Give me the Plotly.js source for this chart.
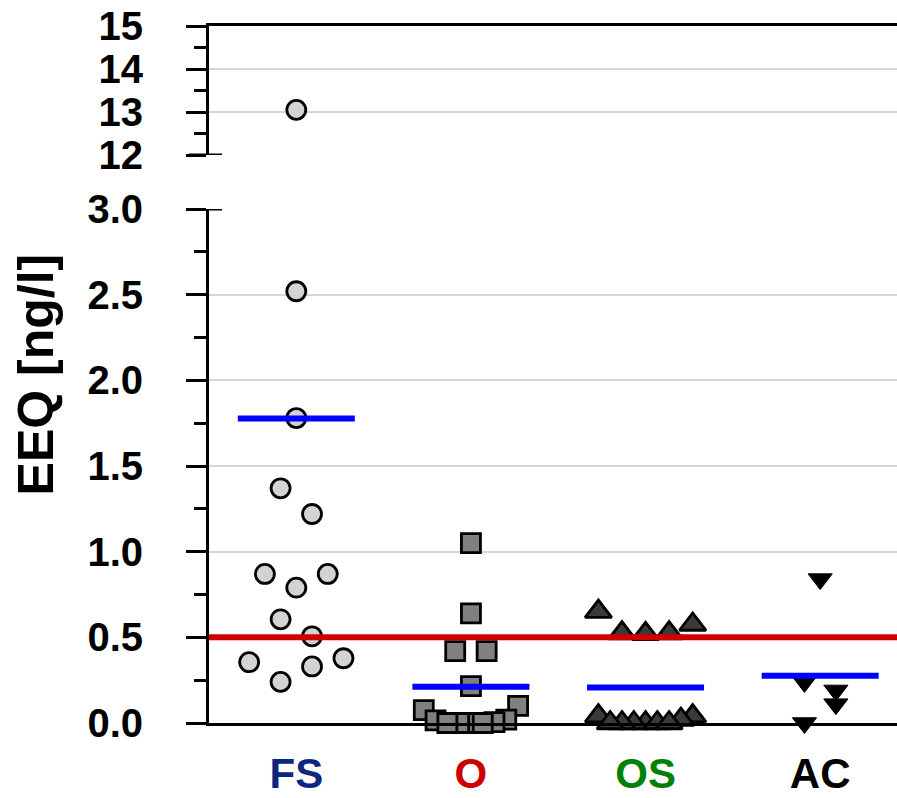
<!DOCTYPE html>
<html><head><meta charset="utf-8">
<script src="https://cdn.plot.ly/plotly-3.0.1.min.js"></script>
<style>html,body{margin:0;padding:0;background:#fff;}#chart{width:897px;height:798px;}</style>
</head><body><div id="chart"></div>
<script>
// ---- data ----
const categories = ['FS', 'O', 'OS', 'AC'];
const categoryColors = ['#0d2680', '#cc0000', '#008000', '#000000'];
const fsValues = [13.05, 2.52, 1.78, 1.37, 1.22, 0.87, 0.87, 0.79, 0.605, 0.506, 0.378, 0.355, 0.33, 0.24];
const oValues = [1.05, 0.64, 0.42, 0.42, 0.215, 0.1, 0.075, 0.02, 0.015, 0.005, 0, 0, 0, 0];
const osValues = [0.65, 0.575, 0.525, 0.525, 0.52, 0.04, 0.04, 0.02, 0, 0, 0, 0, 0, 0];
const acValues = [0.84, 0.24, 0.19, 0.11, 0];
const referenceLevel = 0.5;
const lowerTicks = [0, 0.5, 1, 1.5, 2, 2.5, 3];
const upperTicks = [12, 13, 14, 15];
const breakLow = 3;
const breakHigh = 12;

// ---- styling ----
const FONT = '"Liberation Sans", Arial, Helvetica, sans-serif';
const markerStyles = [
  {symbol: 'circle', size: 19, color: '#d3d3d3', line: {color: '#000', width: 2.8}},
  {symbol: 'square', size: 19, color: '#808080', line: {color: '#000', width: 2.8}},
  {symbol: 'triangle-up', size: 23, color: '#3a3a3a', line: {color: '#000', width: 2.8}},
  {symbol: 'triangle-down', size: 21, color: '#000', line: {color: '#000', width: 1}}
];

// deterministic column-scatter layout (rows of nearby values spread side by side)
function swarmOffsets(values, rowSpan, step, maxSteps) {
  const idx = values.map((v, i) => i).sort((a, b) => values[a] - values[b]);
  const off = new Array(values.length).fill(0);
  let r = 0, k = 0;
  while (k < idx.length) {
    const start = values[idx[k]];
    const row = [];
    while (k < idx.length && values[idx[k]] - start <= rowSpan) row.push(idx[k++]);
    const n = row.length;
    const sp = n > 1 ? Math.min(2, 2 * maxSteps / (n - 1)) : 0;
    const slots = [];
    for (let i = 0; i < n; i++) slots.push((i - (n - 1) / 2) * sp);
    const sign = r % 2 === 0 ? -1 : 1;
    slots.sort((a, b) => (Math.abs(a) - Math.abs(b)) || (a - b) * (-sign));
    row.forEach((id, j) => { off[id] = slots[j] * step; });
    r++;
  }
  return off;
}

const groups = [fsValues, oValues, osValues, acValues];
const traces = [];
groups.forEach((vals, ci) => {
  const off = swarmOffsets(vals, 0.16, 0.09, 3);
  const lowX = [], lowY = [], hiX = [], hiY = [];
  vals.forEach((v, i) => {
    if (v > breakLow) { hiX.push(ci + off[i]); hiY.push(v); }
    else { lowX.push(ci + off[i]); lowY.push(v); }
  });
  const ms = markerStyles[ci];
  traces.push({type: 'scatter', mode: 'markers', x: lowX, y: lowY, xaxis: 'x', yaxis: 'y',
    marker: ms, cliponaxis: false, hoverinfo: 'skip'});
  if (hiY.length) traces.push({type: 'scatter', mode: 'markers', x: hiX, y: hiY, xaxis: 'x2', yaxis: 'y2',
    marker: ms, cliponaxis: false, hoverinfo: 'skip'});
});
// mean lines
groups.forEach((vals, ci) => {
  const mean = vals.reduce((a, b) => a + b, 0) / vals.length;
  traces.push({type: 'scatter', mode: 'lines', x: [ci - 0.335, ci + 0.335], y: [mean, mean],
    xaxis: 'x', yaxis: 'y', line: {color: '#0000ff', width: 6}, cliponaxis: false, hoverinfo: 'skip'});
});

const xRange = [-0.5, 3.44];
const tickFont = {family: FONT, size: 40, color: '#000', weight: 700};
const layout = {
  width: 897, height: 798,
  margin: {l: 209, r: 0, t: 26, b: 75, pad: 0},
  paper_bgcolor: '#fff', plot_bgcolor: '#fff',
  showlegend: false,
  font: {family: FONT, color: '#000', weight: 700},
  xaxis: {
    domain: [0, 1], range: xRange, anchor: 'y',
    tickvals: categories.map((c, i) => i),
    ticktext: categories.map((c, i) => '<span style="color:' + categoryColors[i] + '">' + c + '</span>'),
    ticks: '', showline: true, linecolor: '#000', linewidth: 3,
    showgrid: false, zeroline: false,
    tickfont: {family: FONT, size: 42, weight: 700}, ticklabelstandoff: 12
  },
  xaxis2: {
    domain: [0, 1], range: xRange, anchor: 'y2', side: 'top',
    showline: true, linecolor: '#000', linewidth: 3,
    showticklabels: false, ticks: '', showgrid: false, zeroline: false
  },
  yaxis: {
    domain: [0, 0.7374], range: [0, breakLow], anchor: 'x',
    tickvals: lowerTicks, ticktext: lowerTicks.map(v => v.toFixed(1)),
    ticks: 'outside', ticklen: 20, tickwidth: 3, tickcolor: '#000',
    showline: true, linecolor: '#000', linewidth: 3,
    showgrid: true, gridcolor: '#d6d6d6', gridwidth: 2, zeroline: false,
    minor: {dtick: 0.25, tick0: 0, ticks: 'outside', ticklen: 12, tickwidth: 3, tickcolor: '#000', showgrid: false},
    tickfont: tickFont, ticklabelstandoff: 35
  },
  yaxis2: {
    domain: [0.8149, 1], range: [breakHigh, 15], anchor: 'x2',
    tickvals: upperTicks, ticktext: upperTicks.map(String),
    ticks: 'outside', ticklen: 20, tickwidth: 3, tickcolor: '#000',
    showline: true, linecolor: '#000', linewidth: 3,
    showgrid: true, gridcolor: '#d6d6d6', gridwidth: 2, zeroline: false,
    minor: {dtick: 0.5, tick0: 12, ticks: 'outside', ticklen: 12, tickwidth: 3, tickcolor: '#000', showgrid: false},
    tickfont: tickFont, ticklabelstandoff: 35
  },
  shapes: [
    {type: 'line', xref: 'paper', x0: 0, x1: 1, yref: 'y', y0: referenceLevel, y1: referenceLevel,
      line: {color: '#cc0000', width: 6}, layer: 'above'},
    {type: 'line', xref: 'paper', xsizemode: 'pixel', xanchor: 0, x0: -20, x1: 13,
      yref: 'y', y0: breakLow, y1: breakLow, line: {color: '#000', width: 3}},
    {type: 'line', xref: 'paper', xsizemode: 'pixel', xanchor: 0, x0: -20, x1: 13,
      yref: 'y2', y0: breakHigh, y1: breakHigh, line: {color: '#000', width: 3}}
  ],
  annotations: [
    {xref: 'paper', yref: 'paper', x: -0.2515, y: 0.5, text: 'EEQ [ng/l]', textangle: -90,
      showarrow: false, xanchor: 'center', yanchor: 'middle',
      font: {family: FONT, size: 50, color: '#000', weight: 700}}
  ]
};

Plotly.newPlot('chart', traces, layout, {displayModeBar: false, staticPlot: true});
</script>
</body></html>
